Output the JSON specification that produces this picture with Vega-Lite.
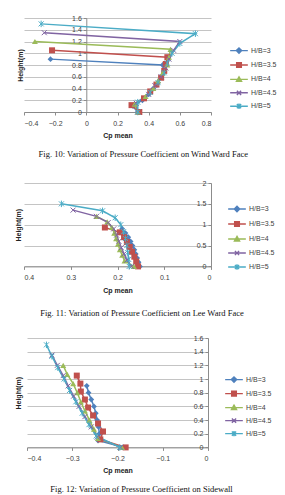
{
"$schema": "https://vega.github.io/schema/vega-lite/v6.json",
"padding": {"left": 14, "top": 14, "right": 0, "bottom": 0},
"bounds": "flush",
"spacing": 71,
"center": true,
"config": {
  "font": "Liberation Sans",
  "view": {"stroke": null},
  "axis": {"labelFontSize": 7, "labelColor": "#404040", "titleFontSize": 7, "titleFontWeight": "bold", "titleColor": "#222222", "domainColor": "#8c8c8c", "tickColor": "#8c8c8c", "tickSize": 3, "gridColor": "#c4c4c4", "labelPadding": 2},
  "axisX": {"labelPadding": 4},
  "legend": {"labelFont": "Liberation Sans", "labelFontSize": 7, "labelColor": "#404040", "symbolSize": 200, "symbolStrokeWidth": 1.4, "labelOffset": 4, "padding": 0, "symbolOpacity": 1},
  "point": {"opacity": 1, "size": 30}
},
"datasets": {
  "ww": [
    {"s":"H/B=3","h":0,"cp":0.33},{"s":"H/B=3","h":0.1,"cp":0.30},{"s":"H/B=3","h":0.2,"cp":0.36},{"s":"H/B=3","h":0.3,"cp":0.40},{"s":"H/B=3","h":0.4,"cp":0.43},{"s":"H/B=3","h":0.5,"cp":0.46},{"s":"H/B=3","h":0.6,"cp":0.48},{"s":"H/B=3","h":0.7,"cp":0.50},{"s":"H/B=3","h":0.8,"cp":0.49},{"s":"H/B=3","h":0.9,"cp":-0.23},
    {"s":"H/B=3.5","h":0,"cp":0.34},{"s":"H/B=3.5","h":0.117,"cp":0.29},{"s":"H/B=3.5","h":0.233,"cp":0.37},{"s":"H/B=3.5","h":0.35,"cp":0.41},{"s":"H/B=3.5","h":0.467,"cp":0.45},{"s":"H/B=3.5","h":0.583,"cp":0.48},{"s":"H/B=3.5","h":0.7,"cp":0.50},{"s":"H/B=3.5","h":0.817,"cp":0.51},{"s":"H/B=3.5","h":0.933,"cp":0.52},{"s":"H/B=3.5","h":1.05,"cp":-0.22},
    {"s":"H/B=4","h":0,"cp":0.33},{"s":"H/B=4","h":0.133,"cp":0.31},{"s":"H/B=4","h":0.267,"cp":0.38},{"s":"H/B=4","h":0.4,"cp":0.43},{"s":"H/B=4","h":0.533,"cp":0.46},{"s":"H/B=4","h":0.667,"cp":0.49},{"s":"H/B=4","h":0.8,"cp":0.52},{"s":"H/B=4","h":0.933,"cp":0.53},{"s":"H/B=4","h":1.067,"cp":0.54},{"s":"H/B=4","h":1.2,"cp":-0.33},
    {"s":"H/B=4.5","h":0,"cp":0.33},{"s":"H/B=4.5","h":0.15,"cp":0.32},{"s":"H/B=4.5","h":0.3,"cp":0.40},{"s":"H/B=4.5","h":0.45,"cp":0.44},{"s":"H/B=4.5","h":0.6,"cp":0.48},{"s":"H/B=4.5","h":0.75,"cp":0.51},{"s":"H/B=4.5","h":0.9,"cp":0.53},{"s":"H/B=4.5","h":1.05,"cp":0.56},{"s":"H/B=4.5","h":1.2,"cp":0.60},{"s":"H/B=4.5","h":1.35,"cp":-0.27},
    {"s":"H/B=5","h":0,"cp":0.33},{"s":"H/B=5","h":0.167,"cp":0.33},{"s":"H/B=5","h":0.333,"cp":0.41},{"s":"H/B=5","h":0.5,"cp":0.46},{"s":"H/B=5","h":0.667,"cp":0.50},{"s":"H/B=5","h":0.833,"cp":0.52},{"s":"H/B=5","h":1.0,"cp":0.55},{"s":"H/B=5","h":1.167,"cp":0.60},{"s":"H/B=5","h":1.333,"cp":0.70},{"s":"H/B=5","h":1.5,"cp":-0.29}
  ],
  "lw": [
    {"s":"H/B=3","h":0,"cp":0.152},{"s":"H/B=3","h":0.1,"cp":0.155},{"s":"H/B=3","h":0.2,"cp":0.158},{"s":"H/B=3","h":0.3,"cp":0.161},{"s":"H/B=3","h":0.4,"cp":0.164},{"s":"H/B=3","h":0.5,"cp":0.168},{"s":"H/B=3","h":0.6,"cp":0.172},{"s":"H/B=3","h":0.7,"cp":0.177},{"s":"H/B=3","h":0.8,"cp":0.183},{"s":"H/B=3","h":0.9,"cp":0.19},
    {"s":"H/B=3.5","h":0,"cp":0.156},{"s":"H/B=3.5","h":0.117,"cp":0.16},{"s":"H/B=3.5","h":0.233,"cp":0.164},{"s":"H/B=3.5","h":0.35,"cp":0.169},{"s":"H/B=3.5","h":0.467,"cp":0.174},{"s":"H/B=3.5","h":0.583,"cp":0.18},{"s":"H/B=3.5","h":0.7,"cp":0.186},{"s":"H/B=3.5","h":0.817,"cp":0.195},{"s":"H/B=3.5","h":0.933,"cp":0.227},
    {"s":"H/B=4","h":0,"cp":0.165},{"s":"H/B=4","h":0.133,"cp":0.185},{"s":"H/B=4","h":0.267,"cp":0.19},{"s":"H/B=4","h":0.4,"cp":0.195},{"s":"H/B=4","h":0.533,"cp":0.199},{"s":"H/B=4","h":0.667,"cp":0.203},{"s":"H/B=4","h":0.8,"cp":0.207},{"s":"H/B=4","h":0.933,"cp":0.212},{"s":"H/B=4","h":1.067,"cp":0.222},{"s":"H/B=4","h":1.2,"cp":0.245},
    {"s":"H/B=4.5","h":0,"cp":0.17},{"s":"H/B=4.5","h":0.15,"cp":0.18},{"s":"H/B=4.5","h":0.3,"cp":0.186},{"s":"H/B=4.5","h":0.45,"cp":0.192},{"s":"H/B=4.5","h":0.6,"cp":0.197},{"s":"H/B=4.5","h":0.75,"cp":0.202},{"s":"H/B=4.5","h":0.9,"cp":0.208},{"s":"H/B=4.5","h":1.05,"cp":0.22},{"s":"H/B=4.5","h":1.2,"cp":0.245},{"s":"H/B=4.5","h":1.35,"cp":0.295},
    {"s":"H/B=5","h":0,"cp":0.175},{"s":"H/B=5","h":0.167,"cp":0.176},{"s":"H/B=5","h":0.333,"cp":0.178},{"s":"H/B=5","h":0.5,"cp":0.18},{"s":"H/B=5","h":0.667,"cp":0.183},{"s":"H/B=5","h":0.833,"cp":0.187},{"s":"H/B=5","h":1.0,"cp":0.193},{"s":"H/B=5","h":1.167,"cp":0.205},{"s":"H/B=5","h":1.333,"cp":0.232},{"s":"H/B=5","h":1.5,"cp":0.32}
  ],
  "sw": [
    {"s":"H/B=3","h":0,"cp":-0.187},{"s":"H/B=3","h":0.1,"cp":-0.243},{"s":"H/B=3","h":0.2,"cp":-0.24},{"s":"H/B=3","h":0.3,"cp":-0.242},{"s":"H/B=3","h":0.4,"cp":-0.245},{"s":"H/B=3","h":0.5,"cp":-0.248},{"s":"H/B=3","h":0.6,"cp":-0.252},{"s":"H/B=3","h":0.7,"cp":-0.258},{"s":"H/B=3","h":0.8,"cp":-0.264},{"s":"H/B=3","h":0.9,"cp":-0.268},
    {"s":"H/B=3.5","h":0,"cp":-0.182},{"s":"H/B=3.5","h":0.117,"cp":-0.238},{"s":"H/B=3.5","h":0.233,"cp":-0.232},{"s":"H/B=3.5","h":0.35,"cp":-0.243},{"s":"H/B=3.5","h":0.467,"cp":-0.254},{"s":"H/B=3.5","h":0.583,"cp":-0.265},{"s":"H/B=3.5","h":0.7,"cp":-0.272},{"s":"H/B=3.5","h":0.817,"cp":-0.281},{"s":"H/B=3.5","h":0.933,"cp":-0.282},{"s":"H/B=3.5","h":1.05,"cp":-0.29},
    {"s":"H/B=4","h":0,"cp":-0.19},{"s":"H/B=4","h":0.133,"cp":-0.243},{"s":"H/B=4","h":0.267,"cp":-0.252},{"s":"H/B=4","h":0.4,"cp":-0.262},{"s":"H/B=4","h":0.533,"cp":-0.272},{"s":"H/B=4","h":0.667,"cp":-0.281},{"s":"H/B=4","h":0.8,"cp":-0.289},{"s":"H/B=4","h":0.933,"cp":-0.298},{"s":"H/B=4","h":1.067,"cp":-0.311},{"s":"H/B=4","h":1.2,"cp":-0.32},
    {"s":"H/B=4.5","h":0,"cp":-0.193},{"s":"H/B=4.5","h":0.15,"cp":-0.245},{"s":"H/B=4.5","h":0.3,"cp":-0.258},{"s":"H/B=4.5","h":0.45,"cp":-0.272},{"s":"H/B=4.5","h":0.6,"cp":-0.285},{"s":"H/B=4.5","h":0.75,"cp":-0.297},{"s":"H/B=4.5","h":0.9,"cp":-0.309},{"s":"H/B=4.5","h":1.05,"cp":-0.32},{"s":"H/B=4.5","h":1.2,"cp":-0.333},{"s":"H/B=4.5","h":1.35,"cp":-0.345},
    {"s":"H/B=5","h":0,"cp":-0.195},{"s":"H/B=5","h":0.167,"cp":-0.247},{"s":"H/B=5","h":0.333,"cp":-0.263},{"s":"H/B=5","h":0.5,"cp":-0.278},{"s":"H/B=5","h":0.667,"cp":-0.292},{"s":"H/B=5","h":0.833,"cp":-0.306},{"s":"H/B=5","h":1.0,"cp":-0.318},{"s":"H/B=5","h":1.167,"cp":-0.332},{"s":"H/B=5","h":1.333,"cp":-0.345},{"s":"H/B=5","h":1.5,"cp":-0.357}
  ]
},
"resolve": {"scale": {"color": "independent"}, "legend": {"color": "independent"}},
"vconcat": [
  {
    "width": 187, "height": 94,
    "data": {"name": "ww"},
    "encoding": {
      "x": {"field": "cp", "type": "quantitative", "scale": {"domain": [-0.4, 0.8], "nice": false, "zero": false}, "axis": null},
      "y": {"field": "h", "type": "quantitative", "scale": {"domain": [0, 1.6], "nice": false}, "axis": null},
      "color": {"field": "s", "type": "nominal", "scale": {"domain": ["H/B=3","H/B=3.5","H/B=4","H/B=4.5","H/B=5"], "range": ["#4F81BD","#C0504D","#9BBB59","#8064A2","#4BACC6"]},
        "legend": {"title": null, "orient": "none", "legendX": 207, "legendY": 24.6, "rowPadding": 0.4,
          "encode": {"symbols": {"update": {
            "shape": {"signal": "datum.value==='H/B=3'?'M-1.25,0H1.25M0,-0.38L0.38,0L0,0.38L-0.38,0Z':datum.value==='H/B=3.5'?'M-1.25,0H1.25M-0.33,-0.33H0.33V0.33H-0.33Z':datum.value==='H/B=4'?'M-1.25,0H1.25M0,-0.36L0.36,0.28H-0.36Z':datum.value==='H/B=4.5'?'M-1.25,0H1.25M-0.3,-0.3L0.3,0.3M-0.3,0.3L0.3,-0.3':'M-1.25,0H1.25M-0.3,-0.3L0.3,0.3M-0.3,0.3L0.3,-0.3M0,-0.38V0.38'"},
            "fill": {"signal": "datum.value==='H/B=3'?'#4F81BD':datum.value==='H/B=3.5'?'#C0504D':datum.value==='H/B=4'?'#9BBB59':datum.value==='H/B=4.5'?'#8064A2':'#4BACC6'"},
            "stroke": {"signal": "datum.value==='H/B=3'?'#4F81BD':datum.value==='H/B=3.5'?'#C0504D':datum.value==='H/B=4'?'#9BBB59':datum.value==='H/B=4.5'?'#8064A2':'#4BACC6'"},
            "opacity": {"value": 1}
          }}}}},
      "order": {"field": "h", "type": "quantitative"}
    },
    "layer": [
      {"mark": {"type": "line", "strokeWidth": 1.5},
       "encoding": {
         "x": {"field": "cp", "type": "quantitative", "scale": {"domain": [-0.4, 0.8], "nice": false, "zero": false}, "axis": {"values": [-0.4,-0.2,0,0.2,0.4,0.6,0.8], "format": ".1~f", "grid": false, "title": "Cp mean", "titlePadding": 5.5}},
         "y": {"field": "h", "type": "quantitative", "scale": {"domain": [0, 1.6], "nice": false}, "axis": {"orient": "left", "values": [0,0.2,0.4,0.6,0.8,1,1.2,1.4,1.6], "grid": true, "labels": false, "ticks": false, "domain": false, "title": null}}}},
      {"transform": [{"filter": "datum.s==='H/B=3'"}], "mark": {"type": "point", "shape": "diamond", "filled": true, "size": 34},
       "encoding": {
         "x": {"field": "cp", "type": "quantitative", "scale": {"domain": [-0.4, 0.8], "nice": false, "zero": false}, "axis": {"orient": "bottom", "labels": false, "ticks": false, "domain": false, "grid": false, "title": "Fig. 10: Variation of Pressure Coefficient on Wind Ward Face", "titleFont": "Liberation Serif", "titleFontSize": 8.5, "titleFontWeight": "normal", "titleColor": "#111111", "titleX": 118.8, "titleY": 41.5, "titleAlign": "center", "titleBaseline": "middle"}},
         "y": {"field": "h", "type": "quantitative", "scale": {"domain": [0, 1.6], "nice": false}, "axis": {"orient": "left", "offset": -62.3, "values": [0,0.2,0.4,0.6,0.8,1,1.2,1.4,1.6], "format": ".1~f", "grid": false, "title": "Height(m)", "titleX": -63}}}},
      {"transform": [{"filter": "datum.s==='H/B=3.5'"}], "mark": {"type": "point", "shape": "square", "filled": true, "size": 36}},
      {"transform": [{"filter": "datum.s==='H/B=4'"}], "mark": {"type": "point", "shape": "triangle-up", "filled": true, "size": 36}},
      {"transform": [{"filter": "datum.s==='H/B=4.5'"}], "mark": {"type": "point", "shape": "M-1,-1L1,1M-1,1L1,-1", "filled": false, "strokeWidth": 1, "size": 25}},
      {"transform": [{"filter": "datum.s==='H/B=5'"}], "mark": {"type": "point", "shape": "M-1,-1L1,1M-1,1L1,-1M0,-1.3V1.3", "filled": false, "strokeWidth": 1, "size": 25}}
    ],
    "resolve": {"axis": {"x": "independent", "y": "independent"}}
  },
  {
    "width": 187, "height": 83.4,
    "data": {"name": "lw"},
    "encoding": {
      "x": {"field": "cp", "type": "quantitative", "scale": {"domain": [0, 0.4], "nice": false, "zero": false, "reverse": true}, "axis": null},
      "y": {"field": "h", "type": "quantitative", "scale": {"domain": [0, 2], "nice": false}, "axis": null},
      "color": {"field": "s", "type": "nominal", "scale": {"domain": ["H/B=3","H/B=3.5","H/B=4","H/B=4.5","H/B=5"], "range": ["#4F81BD","#C0504D","#9BBB59","#8064A2","#4BACC6"]},
        "legend": {"title": null, "orient": "none", "legendX": 205, "legendY": 18, "rowPadding": 1,
          "encode": {"symbols": {"update": {
            "shape": {"signal": "datum.value==='H/B=3'?'M-1.25,0H1.25M0,-0.38L0.38,0L0,0.38L-0.38,0Z':datum.value==='H/B=3.5'?'M-1.25,0H1.25M-0.33,-0.33H0.33V0.33H-0.33Z':datum.value==='H/B=4'?'M-1.25,0H1.25M0,-0.36L0.36,0.28H-0.36Z':datum.value==='H/B=4.5'?'M-1.25,0H1.25M-0.3,-0.3L0.3,0.3M-0.3,0.3L0.3,-0.3':'M-1.25,0H1.25M-0.3,-0.3L0.3,0.3M-0.3,0.3L0.3,-0.3M0,-0.38V0.38'"},
            "fill": {"signal": "datum.value==='H/B=3'?'#4F81BD':datum.value==='H/B=3.5'?'#C0504D':datum.value==='H/B=4'?'#9BBB59':datum.value==='H/B=4.5'?'#8064A2':'#4BACC6'"},
            "stroke": {"signal": "datum.value==='H/B=3'?'#4F81BD':datum.value==='H/B=3.5'?'#C0504D':datum.value==='H/B=4'?'#9BBB59':datum.value==='H/B=4.5'?'#8064A2':'#4BACC6'"},
            "opacity": {"value": 1}
          }}}}},
      "order": {"field": "h", "type": "quantitative"}
    },
    "layer": [
      {"mark": {"type": "line", "strokeWidth": 1.5},
       "encoding": {
         "x": {"field": "cp", "type": "quantitative", "scale": {"domain": [0, 0.4], "nice": false, "zero": false, "reverse": true}, "axis": {"values": [0,0.1,0.2,0.3,0.4], "format": ".1~f", "grid": false, "title": "Cp mean", "titlePadding": 6}},
         "y": {"field": "h", "type": "quantitative", "scale": {"domain": [0, 2], "nice": false}, "axis": {"orient": "left", "values": [0,0.5,1,1.5,2], "grid": true, "labels": false, "ticks": false, "domain": false, "title": null}}}},
      {"transform": [{"filter": "datum.s==='H/B=3'"}], "mark": {"type": "point", "shape": "diamond", "filled": true, "size": 34},
       "encoding": {
         "x": {"field": "cp", "type": "quantitative", "scale": {"domain": [0, 0.4], "nice": false, "zero": false, "reverse": true}, "axis": {"orient": "bottom", "labels": false, "ticks": false, "domain": false, "grid": false, "title": "Fig. 11: Variation of Pressure Coefficient on Lee Ward Face", "titleFont": "Liberation Serif", "titleFontSize": 8.5, "titleFontWeight": "normal", "titleColor": "#111111", "titleX": 117.5, "titleY": 46, "titleAlign": "center", "titleBaseline": "middle"}},
         "y": {"field": "h", "type": "quantitative", "scale": {"domain": [0, 2], "nice": false}, "axis": {"orient": "left", "offset": -187, "values": [0,0.5,1,1.5,2], "format": ".1~f", "grid": false, "title": "Height(m)", "titleX": -189.5}}}},
      {"transform": [{"filter": "datum.s==='H/B=3.5'"}], "mark": {"type": "point", "shape": "square", "filled": true, "size": 36}},
      {"transform": [{"filter": "datum.s==='H/B=4'"}], "mark": {"type": "point", "shape": "triangle-up", "filled": true, "size": 36}},
      {"transform": [{"filter": "datum.s==='H/B=4.5'"}], "mark": {"type": "point", "shape": "M-1,-1L1,1M-1,1L1,-1", "filled": false, "strokeWidth": 1, "size": 25}},
      {"transform": [{"filter": "datum.s==='H/B=5'"}], "mark": {"type": "point", "shape": "M-1,-1L1,1M-1,1L1,-1M0,-1.3V1.3", "filled": false, "strokeWidth": 1, "size": 25}}
    ],
    "resolve": {"axis": {"x": "independent", "y": "independent"}}
  },
  {
    "width": 181, "height": 109.4,
    "data": {"name": "sw"},
    "encoding": {
      "x": {"field": "cp", "type": "quantitative", "scale": {"domain": [-0.4, 0], "nice": false, "zero": false}, "axis": null},
      "y": {"field": "h", "type": "quantitative", "scale": {"domain": [0, 1.6], "nice": false}, "axis": null},
      "color": {"field": "s", "type": "nominal", "scale": {"domain": ["H/B=3","H/B=3.5","H/B=4","H/B=4.5","H/B=5"], "range": ["#4F81BD","#C0504D","#9BBB59","#8064A2","#4BACC6"]},
        "legend": {"title": null, "orient": "none", "legendX": 199, "legendY": 33.6, "rowPadding": 0,
          "encode": {"symbols": {"update": {
            "shape": {"signal": "datum.value==='H/B=3'?'M-1.25,0H1.25M0,-0.38L0.38,0L0,0.38L-0.38,0Z':datum.value==='H/B=3.5'?'M-1.25,0H1.25M-0.33,-0.33H0.33V0.33H-0.33Z':datum.value==='H/B=4'?'M-1.25,0H1.25M0,-0.36L0.36,0.28H-0.36Z':datum.value==='H/B=4.5'?'M-1.25,0H1.25M-0.3,-0.3L0.3,0.3M-0.3,0.3L0.3,-0.3':'M-1.25,0H1.25M-0.3,-0.3L0.3,0.3M-0.3,0.3L0.3,-0.3M0,-0.38V0.38'"},
            "fill": {"signal": "datum.value==='H/B=3'?'#4F81BD':datum.value==='H/B=3.5'?'#C0504D':datum.value==='H/B=4'?'#9BBB59':datum.value==='H/B=4.5'?'#8064A2':'#4BACC6'"},
            "stroke": {"signal": "datum.value==='H/B=3'?'#4F81BD':datum.value==='H/B=3.5'?'#C0504D':datum.value==='H/B=4'?'#9BBB59':datum.value==='H/B=4.5'?'#8064A2':'#4BACC6'"},
            "opacity": {"value": 1}
          }}}}},
      "order": {"field": "h", "type": "quantitative"}
    },
    "layer": [
      {"mark": {"type": "line", "strokeWidth": 1.5},
       "encoding": {
         "x": {"field": "cp", "type": "quantitative", "scale": {"domain": [-0.4, 0], "nice": false, "zero": false}, "axis": {"values": [-0.4,-0.3,-0.2,-0.1,0], "format": ".1~f", "grid": false, "title": "Cp mean", "titlePadding": 5.5}},
         "y": {"field": "h", "type": "quantitative", "scale": {"domain": [0, 1.6], "nice": false}, "axis": {"orient": "left", "values": [0,0.2,0.4,0.6,0.8,1,1.2,1.4,1.6], "grid": true, "labels": false, "ticks": false, "domain": false, "title": null}}}},
      {"transform": [{"filter": "datum.s==='H/B=3'"}], "mark": {"type": "point", "shape": "diamond", "filled": true, "size": 34},
       "encoding": {
         "x": {"field": "cp", "type": "quantitative", "scale": {"domain": [-0.4, 0], "nice": false, "zero": false}, "axis": {"orient": "bottom", "labels": false, "ticks": false, "domain": false, "grid": false, "title": "Fig. 12: Variation of Pressure Coefficient on Sidewall", "titleFont": "Liberation Serif", "titleFontSize": 8.5, "titleFontWeight": "normal", "titleColor": "#111111", "titleX": 114, "titleY": 41.5, "titleAlign": "center", "titleBaseline": "middle"}},
         "y": {"field": "h", "type": "quantitative", "scale": {"domain": [0, 1.6], "nice": false}, "axis": {"orient": "left", "offset": -181, "values": [0,0.2,0.4,0.6,0.8,1,1.2,1.4,1.6], "format": ".1~f", "grid": false, "title": "Height(m)", "titleX": -186.8}}}},
      {"transform": [{"filter": "datum.s==='H/B=3.5'"}], "mark": {"type": "point", "shape": "square", "filled": true, "size": 36}},
      {"transform": [{"filter": "datum.s==='H/B=4'"}], "mark": {"type": "point", "shape": "triangle-up", "filled": true, "size": 36}},
      {"transform": [{"filter": "datum.s==='H/B=4.5'"}], "mark": {"type": "point", "shape": "M-1,-1L1,1M-1,1L1,-1", "filled": false, "strokeWidth": 1, "size": 25}},
      {"transform": [{"filter": "datum.s==='H/B=5'"}], "mark": {"type": "point", "shape": "M-1,-1L1,1M-1,1L1,-1M0,-1.3V1.3", "filled": false, "strokeWidth": 1, "size": 25}}
    ],
    "resolve": {"axis": {"x": "independent", "y": "independent"}}
  }
]
}
